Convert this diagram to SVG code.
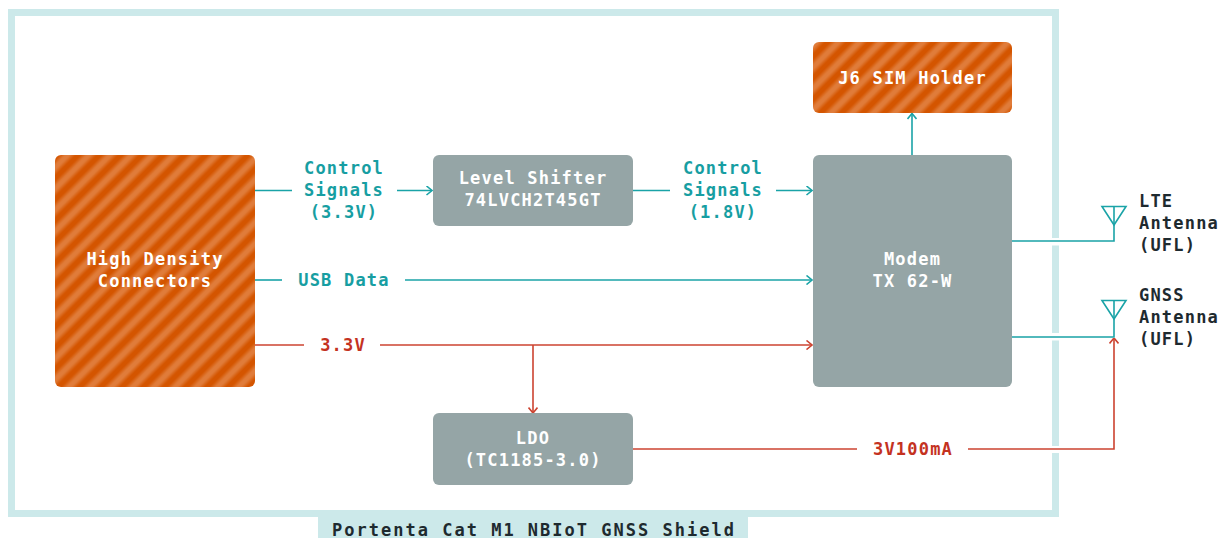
<svg xmlns="http://www.w3.org/2000/svg" width="1225" height="538" viewBox="0 0 1225 538">
<style>
  .t{font-family:"DejaVu Sans Mono","Liberation Mono",monospace;font-weight:bold;font-size:17px;letter-spacing:1.2px}
  .w{fill:#ffffff;text-anchor:middle}
  .tl{fill:#179ea2;text-anchor:middle}
  .rd{fill:#c4321f;text-anchor:middle}
  .dk{fill:#1e2a2f}
  .gray{fill:#95a5a6}
  .orange{fill:url(#hatch)}
  .ct{fill:none;stroke:#1aa3a7;stroke-width:1.6}
  .cr{fill:none;stroke:#cc4330;stroke-width:1.6}
</style>
<defs>
  <linearGradient id="sg" x1="0" y1="0" x2="1" y2="0">
    <stop offset="0" stop-color="#d45500"/>
    <stop offset="0.12" stop-color="#d45500"/>
    <stop offset="0.4" stop-color="#e07c3a"/>
    <stop offset="0.6" stop-color="#e07c3a"/>
    <stop offset="0.88" stop-color="#d45500"/>
    <stop offset="1" stop-color="#d45500"/>
  </linearGradient>
  <pattern id="hatch" width="15" height="15" patternUnits="userSpaceOnUse" patternTransform="rotate(45)">
    <rect width="15" height="15" fill="url(#sg)"/>
  </pattern>
  <marker id="at" viewBox="0 0 10 10" refX="9.5" refY="5" markerWidth="10" markerHeight="10" markerUnits="userSpaceOnUse" orient="auto">
    <path d="M4,0.5 L9.5,5 L4,9.5" fill="none" stroke="#1aa3a7" stroke-width="1.6"/>
  </marker>
  <marker id="ar" viewBox="0 0 10 10" refX="9.5" refY="5" markerWidth="10" markerHeight="10" markerUnits="userSpaceOnUse" orient="auto">
    <path d="M4,0.5 L9.5,5 L4,9.5" fill="none" stroke="#cc4330" stroke-width="1.6"/>
  </marker>
</defs>
<rect width="1225" height="538" fill="#ffffff"/>

<g id="frame">
  <path d="M1055.5,238 V12.5 H11.5 V513.5 H1055.5 V453 M1055.5,446 V340.5 M1055.5,333 V245.5" fill="none" stroke="#cce9ea" stroke-width="7"/>
  <rect x="318" y="517" width="430" height="21" fill="#cce9ea"/>
  <text class="t dk" x="534" y="535.5" text-anchor="middle" style="letter-spacing:2px">Portenta Cat M1 NBIoT GNSS Shield</text>
</g>

<g id="connectors">
  <line class="ct" x1="255" y1="190.5" x2="292" y2="190.5"/>
  <line class="ct" x1="397" y1="190.5" x2="432" y2="190.5" marker-end="url(#at)"/>
  <line class="ct" x1="633" y1="190.5" x2="670" y2="190.5"/>
  <line class="ct" x1="776" y1="190.5" x2="812" y2="190.5" marker-end="url(#at)"/>
  <line class="ct" x1="255" y1="280" x2="282" y2="280"/>
  <line class="ct" x1="405" y1="280" x2="812" y2="280" marker-end="url(#at)"/>
  <line class="cr" x1="255" y1="345" x2="304" y2="345"/>
  <line class="cr" x1="380" y1="345" x2="812" y2="345" marker-end="url(#ar)"/>
  <line class="cr" x1="533" y1="345" x2="533" y2="413" marker-end="url(#ar)"/>
  <line class="ct" x1="912" y1="155" x2="912" y2="113.5" marker-end="url(#at)"/>
  <line class="cr" x1="633" y1="449" x2="857" y2="449"/>
  <path class="cr" d="M968,449 H1114 V338" marker-end="url(#ar)"/>
  <path class="ct" d="M1012,241 H1114 V207"/>
  <path class="ct" d="M1102,206.5 H1126 L1114,225 Z"/>
  <path class="ct" d="M1012,337 H1114 V301"/>
  <path class="ct" d="M1102,300.5 H1126 L1114,319 Z"/>
  <text class="t tl"><tspan x="344" y="174">Control</tspan><tspan x="344" y="196">Signals</tspan><tspan x="344" y="218">(3.3V)</tspan></text>
  <text class="t tl"><tspan x="723" y="174">Control</tspan><tspan x="723" y="196">Signals</tspan><tspan x="723" y="218">(1.8V)</tspan></text>
  <text class="t tl" x="344" y="286">USB Data</text>
  <text class="t rd" x="343" y="351">3.3V</text>
  <text class="t rd" x="913" y="455">3V100mA</text>
  <text class="t dk"><tspan x="1139" y="207">LTE</tspan><tspan x="1139" y="229">Antenna</tspan><tspan x="1139" y="251">(UFL)</tspan></text>
  <text class="t dk"><tspan x="1139" y="301">GNSS</tspan><tspan x="1139" y="323">Antenna</tspan><tspan x="1139" y="345">(UFL)</tspan></text>
</g>

<g id="high-density">
  <rect class="orange" x="55" y="155" width="200" height="232" rx="6"/>
  <text class="t w"><tspan x="155" y="265">High Density</tspan><tspan x="155" y="287">Connectors</tspan></text>
</g>
<g id="sim-holder">
  <rect class="orange" x="813" y="42" width="199" height="71" rx="6"/>
  <text class="t w" x="912.5" y="84">J6 SIM Holder</text>
</g>
<g id="level-shifter">
  <rect class="gray" x="433" y="155" width="200" height="71" rx="6"/>
  <text class="t w"><tspan x="533" y="184">Level Shifter</tspan><tspan x="533" y="206">74LVCH2T45GT</tspan></text>
</g>
<g id="modem">
  <rect class="gray" x="813" y="155" width="199" height="232" rx="6"/>
  <text class="t w"><tspan x="912.5" y="265">Modem</tspan><tspan x="912.5" y="287">TX 62-W</tspan></text>
</g>
<g id="ldo">
  <rect class="gray" x="433" y="413" width="200" height="72" rx="6"/>
  <text class="t w"><tspan x="533" y="444">LDO</tspan><tspan x="533" y="466">(TC1185-3.0)</tspan></text>
</g>
</svg>
